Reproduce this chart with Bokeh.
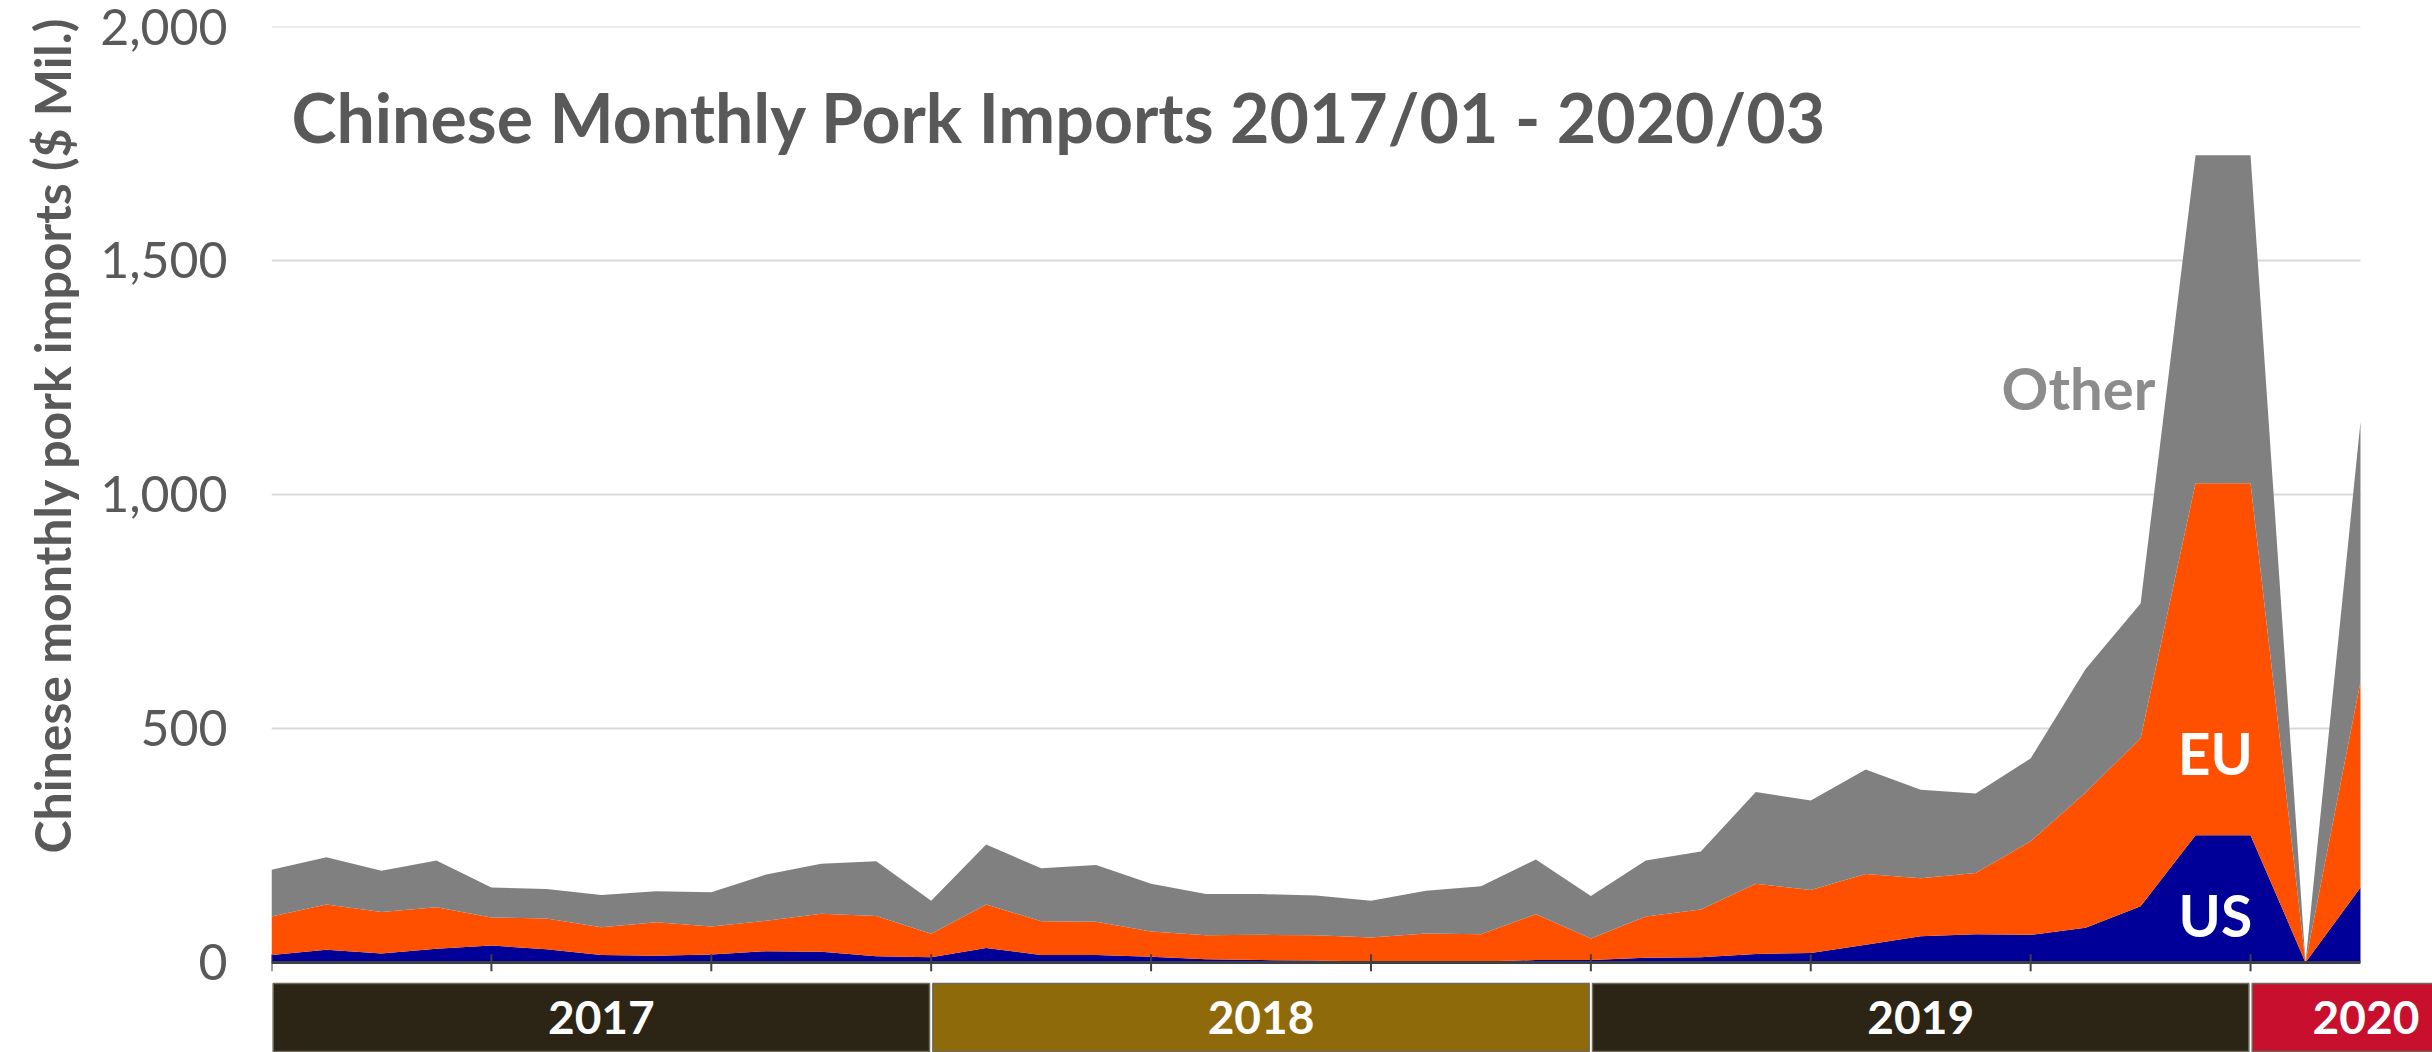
from bokeh.plotting import figure
from bokeh.models import ColumnDataSource, Range1d, FixedTicker, NumeralTickFormatter, Label, Title
from bokeh.core.properties import value
from bokeh.embed import file_html
from bokeh.resources import INLINE

# ---- data (US$ million, monthly Chinese pork imports) ----
months = [f"{y}/{m:02d}" for y in (2017, 2018, 2019) for m in range(1, 13)] + ["2020/01", "2020/02", "2020/03"]
us = [16, 27, 19, 29, 36, 28, 16, 14, 17, 24, 23, 13,
      11, 31, 16, 16, 12, 7, 5, 4, 2, 2, 2, 5,
      5, 10, 11, 18, 20, 38, 56, 60, 59, 74, 120, 272,
      272, 0, 160]
eu = [82, 97, 89, 89, 60, 66, 59, 72, 60, 65, 81, 86,
      50, 93, 72, 71, 54, 51, 54, 54, 51, 60, 58, 98,
      46, 88, 102, 150, 135, 151, 124, 131, 200, 289, 359, 752,
      752, 0, 440]
other = [100, 101, 88, 100, 64, 63, 69, 66, 73, 99, 107, 117,
         71, 128, 113, 121, 102, 88, 87, 85, 79, 91, 103, 117,
         91, 120, 124, 196, 191, 223, 189, 170, 177, 264, 288, 701,
         701, 0, 555]
years = ["2017", "2018", "2019", "2020"]
year_colors = ["#2c2415", "#8f6a0a", "#2c2415", "#c8102e"]
y_ticks = [0, 500, 1000, 1500, 2000]
title_text = "Chinese Monthly Pork Imports 2017/01 - 2020/03"
y_title = "Chinese monthly pork imports ($ Mil.)"

FONT = "Lato"
GRAY_TXT = "#595959"

n = len(months)
x = list(range(n))
src = ColumnDataSource(dict(x=x, US=us, EU=eu, Other=other))

p = figure(width=2432, height=1052,
           x_range=Range1d(0, 39.31), y_range=Range1d(-192.5, 2000),
           output_backend="svg", toolbar_location=None,
           x_axis_location=None,
           min_border_left=271, min_border_right=0,
           min_border_top=26, min_border_bottom=0)
p.outline_line_color = None
p.grid.visible = False
p.background_fill_color = "white"

# y axis
ax = p.yaxis[0]
ax.ticker = FixedTicker(ticks=y_ticks)
ax.formatter = NumeralTickFormatter(format="0,0")
ax.axis_line_color = None
ax.major_tick_line_color = None
ax.minor_tick_line_color = None
ax.major_tick_in = 0
ax.major_tick_out = 0
ax.major_label_standoff = 44
ax.major_label_text_font = FONT
ax.major_label_text_font_size = "50px"
ax.major_label_text_color = GRAY_TXT

# y axis title (left side title, rotated)
p.add_layout(Title(text=y_title, align="left", offset=199, standoff=30,
                   vertical_align="middle",
                   text_font=FONT, text_font_style="bold", text_font_size="50px",
                   text_color=GRAY_TXT), "left")

# gridlines across the category span
g = [t for t in y_ticks if t > 0]
p.segment(x0=[0] * len(g), x1=[n - 1] * len(g), y0=g, y1=g,
          line_color="#d9d9d9", line_width=2)

# stacked areas
p.varea_stack(stackers=["US", "EU", "Other"], x="x", source=src,
              color=["#000099", "#ff5000", "#808080"])

# x axis line and ticks
p.line(x=[0, n - 1], y=[0, 0], line_color="#404040", line_width=3)
tk = list(range(0, n - 1, 4))
p.segment(x0=tk, x1=tk, y0=[17.5] * len(tk), y1=[-19] * len(tk),
          line_color="#404040", line_width=2)

# year bands
lefts = [12 * k + 0.03 for k in range(len(years))]
rights = [12 * (k + 1) - 0.03 for k in range(len(years))]
rights[-1] = 42
p.quad(left=lefts, right=rights, top=-45, bottom=-190.4,
       fill_color=year_colors, line_color="#6e6a5e", line_width=1.5)
yx = [12 * k + 6 for k in range(len(years) - 1)] + [38.1]
p.text(x=yx, y=[-117.6] * len(years), text=years,
       text_font=value(FONT), text_font_style="bold", text_font_size="46px",
       text_color="white", text_align="center", text_baseline="middle")

# series labels
p.add_layout(Label(x=32.87, y=1228, text="Other", text_font=FONT, text_font_style="bold",
                   text_font_size="58px", text_color="#8c8c8c",
                   text_align="center", text_baseline="middle"))
p.add_layout(Label(x=35.36, y=447, text="EU", text_font=FONT, text_font_style="bold",
                   text_font_size="57px", text_color="white",
                   text_align="center", text_baseline="middle"))
p.add_layout(Label(x=35.36, y=101, text="US", text_font=FONT, text_font_style="bold",
                   text_font_size="57px", text_color="white",
                   text_align="center", text_baseline="middle"))

# title
p.add_layout(Label(x=0.364, y=1807, text=title_text, text_font=FONT, text_font_style="bold",
                   text_font_size="68px", text_color=GRAY_TXT,
                   text_align="left", text_baseline="middle"))

open("out.html", "w").write(file_html(p, INLINE))
